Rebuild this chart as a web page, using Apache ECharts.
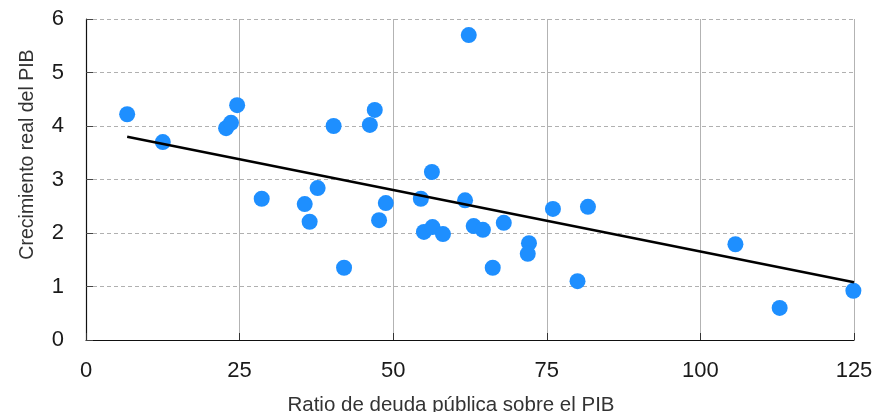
<!DOCTYPE html>
<html>
<head>
<meta charset="utf-8">
<script src="https://cdn.jsdelivr.net/npm/echarts@6/dist/echarts.min.js"></script>
<style>
  html, body { margin: 0; padding: 0; background: #fff; }
  #chart { width: 889px; height: 412px; }
</style>
</head>
<body>
<div id="chart"></div>
<script>
// datos
//------

// ratio de deuda pública sobre el PIB (eje x)
var debtRatio = [6.7, 12.5, 22.8, 23.6, 24.6, 28.6, 35.6, 36.4, 37.7, 40.3, 42.0, 46.2,
  47.0, 47.7, 48.8, 54.5, 55.0, 56.3, 56.4, 58.1, 62.3, 61.7, 63.1, 64.6, 66.2, 68.0,
  72.1, 71.9, 76.0, 81.7, 80.0, 105.7, 112.9, 124.9];

// crecimiento real del PIB (eje y)
var growth = [4.22, 3.70, 3.96, 4.06, 4.39, 2.64, 2.54, 2.21, 2.84, 4.00, 1.35, 4.02,
  4.30, 2.24, 2.56, 2.64, 2.02, 3.14, 2.11, 1.98, 5.70, 2.61, 2.13, 2.06, 1.35, 2.19,
  1.81, 1.61, 2.45, 2.49, 1.10, 1.79, 0.60, 0.92];

// línea de tendencia (extremos)
var trendX = [6.7, 125];
var trendY = [3.80, 1.08];

var xTicks = [0, 25, 50, 75, 100, 125];
var yTicks = [0, 1, 2, 3, 4, 5, 6];

var points = debtRatio.map(function (x, i) { return [x, growth[i]]; });
var trend = trendX.map(function (x, i) { return [x, trendY[i]]; });

var font = 'Liberation Sans, Arial, Helvetica, sans-serif';

var myChart = echarts.init(document.getElementById('chart'));
var option = {
  animation: false,
  grid: { left: 86, right: 35, top: 19, bottom: 72, outerBoundsMode: 'none' },
  xAxis: {
    type: 'value',
    min: xTicks[0],
    max: xTicks[xTicks.length - 1],
    interval: 25,
    name: 'Ratio de deuda pública sobre el PIB',
    nameLocation: 'middle',
    nameGap: 55,
    nameTextStyle: { fontFamily: font, fontSize: 20.5, color: '#333', padding: [0, 38, 0, 0] },
    axisLine: { lineStyle: { color: '#111', width: 1.2 } },
    axisTick: { inside: true, length: 7, lineStyle: { color: '#333' } },
    axisLabel: { fontFamily: font, fontSize: 22, color: '#1a1a1a', margin: 20 },
    splitLine: { show: true, lineStyle: { color: '#b3b3b3', width: 1 } }
  },
  yAxis: {
    type: 'value',
    min: yTicks[0],
    max: yTicks[yTicks.length - 1],
    interval: 1,
    name: 'Crecimiento real del PIB',
    nameLocation: 'middle',
    nameGap: 48,
    nameTextStyle: { fontFamily: font, fontSize: 19.5, color: '#333', padding: [0, 0, 0, 50] },
    axisLine: { show: true, lineStyle: { color: '#111', width: 1.2 } },
    axisTick: { show: true, inside: true, length: 7, lineStyle: { color: '#444' } },
    axisLabel: { fontFamily: font, fontSize: 22, color: '#1a1a1a', margin: 22 },
    splitLine: { show: true, lineStyle: { color: '#b0b0b0', width: 1, type: [4, 3] } }
  },
  series: [
    {
      type: 'scatter',
      data: points,
      symbolSize: 16,
      itemStyle: { color: '#1e8fff', opacity: 1 },
      z: 3
    },
    {
      type: 'line',
      data: trend,
      symbol: 'none',
      lineStyle: { color: '#000', width: 2.5 },
      z: 4
    }
  ]
};
myChart.setOption(option);
</script>
</body>
</html>
